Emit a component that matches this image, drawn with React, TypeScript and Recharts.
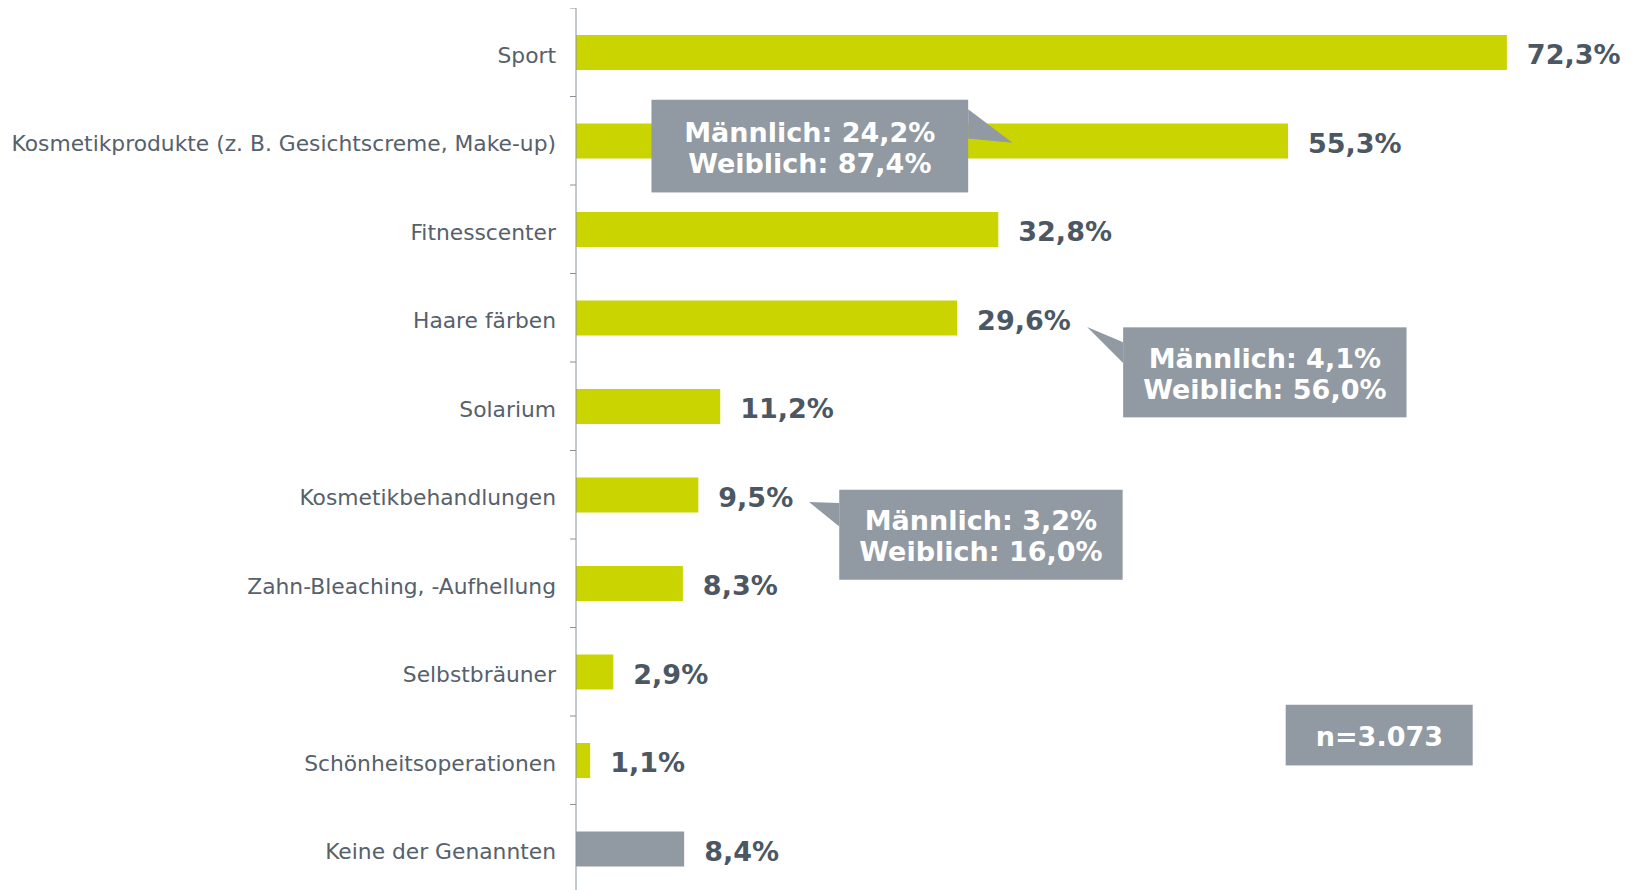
import React from "react";
import { BarChart, Bar, XAxis, YAxis, Cell, LabelList, ReferenceDot } from "recharts";

const categories = [
  "Sport",
  "Kosmetikprodukte (z. B. Gesichtscreme, Make-up)",
  "Fitnesscenter",
  "Haare färben",
  "Solarium",
  "Kosmetikbehandlungen",
  "Zahn-Bleaching, -Aufhellung",
  "Selbstbräuner",
  "Schönheitsoperationen",
  "Keine der Genannten",
];
const values = [72.3, 55.3, 32.8, 29.6, 11.2, 9.5, 8.3, 2.9, 1.1, 8.4];
const isNone = [false, false, false, false, false, false, false, false, false, true];

const calloutCategories = [
  "Kosmetikprodukte (z. B. Gesichtscreme, Make-up)",
  "Haare färben",
  "Kosmetikbehandlungen",
];
const calloutAnchors = [33.9, 39.7, 18.1];
const maleValues = [24.2, 4.1, 3.2];
const femaleValues = [87.4, 56.0, 16.0];
const sampleLabel = "n=3.073";

const data = categories.map((c, i) => ({ name: c, value: values[i], none: isNone[i] }));

const FONT = "'DejaVu Sans', Verdana, sans-serif";
const GREEN = "#c9d400";
const GREY = "#9199a2";
const AXIS = "#8a939c";
const LABEL = "#56616c";
const VALUE = "#4c5764";

const fmt = (v: number) => v.toFixed(1).replace(".", ",") + "%";

// geometry of callouts relative to their anchor point (styling only)
const calloutGeom = [
  { box: [-361, -41, -44.3, 51.7], tip: [0, 2], base: [-31.6, -2.3], side: "right" },
  { box: [36, 9.6, 319.4, 99.6], tip: [0, 9.2], base: [24.6, 45.2], side: "left" },
  { box: [30.2, -5, 313.6, 85], tip: [0, 7.3], base: [8.3, 31.7], side: "left" },
];

const makeCallout = (idx: number) => (props: any) => {
  const { cx, cy } = props;
  if (cx == null || cy == null) return null;
  const g = calloutGeom[idx];
  const [x0, y0, x1, y1] = g.box;
  const bx = g.side === "right" ? x1 : x0;
  const pts = `${cx + bx},${cy + g.base[0]} ${cx + g.tip[0]},${cy + g.tip[1]} ${cx + bx},${cy + g.base[1]}`;
  const tcx = cx + (x0 + x1) / 2;
  const tcy = cy + (y0 + y1) / 2;
  return (
    <g>
      <rect x={cx + x0} y={cy + y0} width={x1 - x0} height={y1 - y0} fill={GREY} />
      <polygon points={pts} fill={GREY} />
      <text x={tcx} y={tcy - 14} textAnchor="middle" dominantBaseline="central" fill="#ffffff" fontFamily={FONT} fontWeight="bold" fontSize={27}>
        {`Männlich: ${fmt(maleValues[idx])}`}
      </text>
      <text x={tcx} y={tcy + 17} textAnchor="middle" dominantBaseline="central" fill="#ffffff" fontFamily={FONT} fontWeight="bold" fontSize={27}>
        {`Weiblich: ${fmt(femaleValues[idx])}`}
      </text>
    </g>
  );
};

const SampleBox = (props: any) => {
  const { cx, cy } = props;
  if (cx == null || cy == null) return null;
  return (
    <g>
      <rect x={cx - 95} y={cy - 55.5} width={187} height={60.7} fill={GREY} />
      <text x={cx - 1.3} y={cy - 24} textAnchor="middle" dominantBaseline="central" fill="#ffffff" fontFamily={FONT} fontWeight="bold" fontSize={27}>
        {sampleLabel}
      </text>
    </g>
  );
};

const CategoryTick = (props: any) => {
  const { x, y, payload } = props;
  const half = payload && typeof payload.offset === "number" ? payload.offset : 44.25;
  return (
    <g>
      <line x1={x + 14} x2={x + 20} y1={y - half} y2={y - half} stroke={AXIS} strokeWidth={1} />
      <text x={x} y={y + 3} textAnchor="end" dominantBaseline="central" fill={LABEL} fontFamily={FONT} fontSize={21.8}>
        {payload.value}
      </text>
    </g>
  );
};

const ValueLabel = (props: any) => {
  const { x, y, width, height, value } = props;
  return (
    <text x={x + width + 20} y={y + height / 2 + 2} dominantBaseline="central" fill={VALUE} fontFamily={FONT} fontWeight="bold" fontSize={27}>
      {fmt(value)}
    </text>
  );
};

export default function App() {
  return (
    <div style={{ width: 1617, height: 882, overflow: "hidden" }}>
      <BarChart
        width={1617}
        height={885}
        data={data}
        layout="vertical"
        margin={{ top: 0, right: 19, bottom: 0, left: 0 }}
      >
        <XAxis type="number" domain={[0, 80]} hide />
        <YAxis
          type="category"
          dataKey="name"
          width={568}
          interval={0}
          tickSize={6}
          tickMargin={14}
          tickLine={false}
          axisLine={{ stroke: AXIS, strokeWidth: 1 }}
          tick={<CategoryTick />}
        />
        <Bar dataKey="value" barSize={35} isAnimationActive={false}>
          {data.map((d, i) => (
            <Cell key={i} fill={d.none ? GREY : GREEN} />
          ))}
          <LabelList dataKey="value" content={<ValueLabel />} />
        </Bar>
        {calloutCategories.map((c, i) => (
          <ReferenceDot key={c} x={calloutAnchors[i]} y={c} r={0} shape={makeCallout(i)} ifOverflow="visible" />
        ))}
        <ReferenceDot x={62.5} y="Schönheitsoperationen" r={0} shape={SampleBox} ifOverflow="visible" />
      </BarChart>
    </div>
  );
}
